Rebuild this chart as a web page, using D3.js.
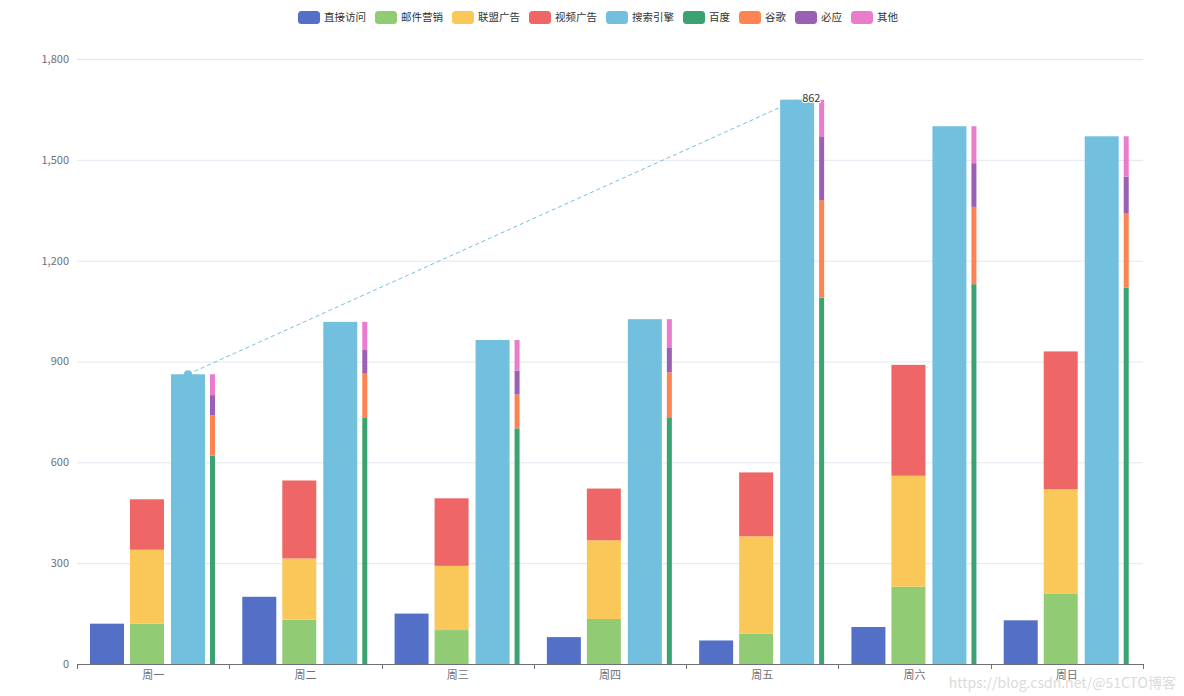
<!DOCTYPE html>
<html><head><meta charset="utf-8">
<script src="https://cdn.jsdelivr.net/npm/d3@7/dist/d3.min.js"></script>
<style>body{margin:0;background:#fff;font-family:"Microsoft YaHei","Noto Sans CJK SC",sans-serif;}</style>
</head><body><svg id="c" width="1184" height="696"></svg>
<script>
const categories = ['周一','周二','周三','周四','周五','周六','周日'];
const seriesNames = ['直接访问','邮件营销','联盟广告','视频广告','搜索引擎','百度','谷歌','必应','其他'];
const colors = ['#5470c6','#91cc75','#fac858','#ee6666','#73c0de','#3ba272','#fc8452','#9a60b4','#ea7ccc'];
const direct = [120, 200, 150, 80, 70, 110, 130];
const email = [120, 132, 101, 134, 90, 230, 210];
const union = [220, 182, 191, 234, 290, 330, 310];
const video = [150, 232, 201, 154, 190, 330, 410];
const search = [862, 1018, 964, 1026, 1679, 1600, 1570];
const baidu = [620, 732, 701, 734, 1090, 1130, 1120];
const google = [120, 132, 101, 134, 290, 230, 220];
const bing = [60, 72, 71, 74, 190, 130, 110];
const other = [62, 82, 91, 84, 109, 110, 120];
const yTicks = [0, 300, 600, 900, 1200, 1500, 1800];

const svg = d3.select('#c');
const L = 77, R = 1143, T = 59, B = 664;
const x = d3.scaleBand().domain(categories).range([L, R]);
const y = d3.scaleLinear().domain([0, 1800]).range([B, T]);
const font = '"Microsoft YaHei","Noto Sans CJK SC",sans-serif';
const fs = 11;

// grid
svg.append('g').selectAll('line').data(yTicks.slice(1)).join('line')
  .attr('x1', L).attr('x2', R).attr('y1', d => y(d) + 0.5).attr('y2', d => y(d) + 0.5)
  .attr('stroke', '#E0E6F1');
// y labels
svg.append('g').selectAll('text').data(yTicks).join('text')
  .attr('x', L - 8).attr('y', d => y(d)).attr('dy', '0.35em').attr('text-anchor', 'end')
  .attr('font-size', fs).attr('fill', '#6E7079').attr('font-family', font)
  .text(d => d3.format(',')(d));

const groups = [
  { off: 13, w: 34, stacks: [[0, direct]] },
  { off: 53, w: 34, stacks: [[1, email], [2, union], [3, video]] },
  { off: 94, w: 34, stacks: [[4, search]] },
  { off: 133, w: 5, stacks: [[5, baidu], [6, google], [7, bing], [8, other]] }
];
const bars = svg.append('g');
groups.forEach(g => {
  categories.forEach((c, i) => {
    let base = 0;
    g.stacks.forEach(([si, arr]) => {
      const v = arr[i];
      bars.append('rect')
        .attr('x', x(c) + g.off * x.bandwidth() / 152.29)
        .attr('width', g.w)
        .attr('y', y(base + v))
        .attr('height', y(base) - y(base + v))
        .attr('fill', colors[si]);
      base += v;
    });
  });
});

// x axis
const xa = svg.append('g');
xa.append('line').attr('x1', L).attr('x2', R).attr('y1', B + 0.5).attr('y2', B + 0.5).attr('stroke', '#6E7079');
const tickPos = categories.map(c => x(c)).concat([R]);
xa.selectAll('line.t').data(tickPos).join('line').attr('class', 't')
  .attr('x1', d => Math.round(d) + 0.5).attr('x2', d => Math.round(d) + 0.5)
  .attr('y1', B).attr('y2', B + 5).attr('stroke', '#6E7079');
xa.selectAll('text').data(categories).join('text')
  .attr('x', d => x(d) + x.bandwidth() / 2).attr('y', B + 15).attr('text-anchor', 'middle')
  .attr('font-size', fs).attr('fill', '#6E7079').attr('font-family', font).text(d => d);

// markLine min -> max on 搜索引擎
const sx = c => x(c) + 94 * x.bandwidth() / 152.29 + 17;
const minI = search.indexOf(d3.min(search)), maxI = search.indexOf(d3.max(search));
const p1 = [sx(categories[minI]), y(search[minI])];
const p2 = [sx(categories[maxI]), y(search[maxI])];
svg.append('line').attr('x1', p1[0]).attr('y1', p1[1]).attr('x2', p2[0]).attr('y2', p2[1])
  .attr('stroke', '#73c0de').attr('stroke-dasharray', '4,3').attr('stroke-width', 1);
svg.append('circle').attr('cx', p1[0]).attr('cy', p1[1]).attr('r', 4).attr('fill', '#73c0de');
svg.append('text').attr('x', p2[0] + 5).attr('y', p2[1] - 2).attr('dy', '0.35em')
  .attr('font-size', fs).attr('fill', '#333').attr('font-family', font)
  .attr('stroke', '#fff').attr('stroke-width', 2).attr('paint-order', 'stroke')
  .text(search[minI]);

// legend
const lg = svg.append('g');
const tmp = svg.append('text').attr('font-size', 10.5).attr('font-family', font);
const widths = seriesNames.map(n => { tmp.text(n); return tmp.node().getComputedTextLength(); });
tmp.remove();
const iw = 22, ih = 13, tg = 4, gap = 9;
const total = d3.sum(widths) + seriesNames.length * (iw + tg) + (seriesNames.length - 1) * gap;
let lx = (1184 - total) / 2 + 6;
seriesNames.forEach((n, i) => {
  lg.append('rect').attr('x', lx).attr('y', 11).attr('width', iw).attr('height', ih).attr('rx', 3.5).attr('fill', colors[i]);
  lg.append('text').attr('x', lx + iw + tg).attr('y', 17.5).attr('dy', '0.35em')
    .attr('font-size', 10.5).attr('fill', '#333').attr('font-family', font).text(n);
  lx += iw + tg + widths[i] + gap;
});

// watermark
svg.append('text').attr('x', 1176).attr('y', 688).attr('text-anchor', 'end')
  .attr('font-size', 14).attr('fill', '#ccc').attr('opacity', 0.7).attr('font-family', font)
  .text('https://blog.csdn.net/@51CTO博客');
</script></body></html>
